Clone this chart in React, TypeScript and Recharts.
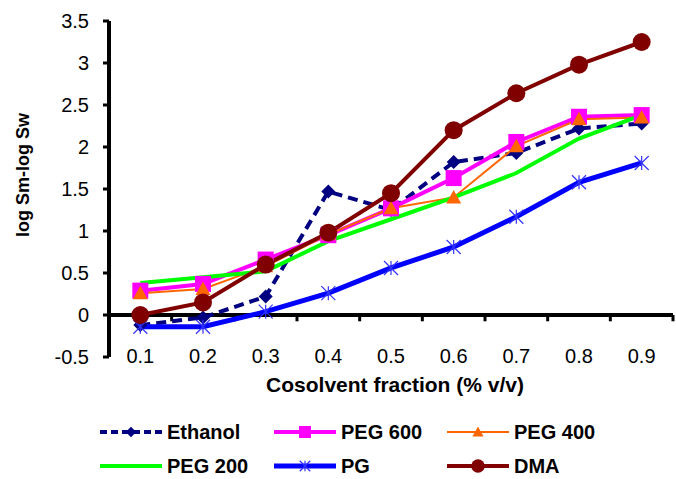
import React from 'react';
import { LineChart, Line, XAxis, YAxis, ReferenceLine, Legend, Label } from 'recharts';

// cosolvent fraction (% v/v) and log Sm - log Sw per cosolvent
const fractions = [0.1, 0.2, 0.3, 0.4, 0.5, 0.6, 0.7, 0.8, 0.9];
const ethanol = [-0.12, -0.03, 0.22, 1.47, 1.25, 1.82, 1.93, 2.22, 2.28];
const peg600 = [0.29, 0.37, 0.66, 0.95, 1.27, 1.63, 2.06, 2.36, 2.38];
const peg400 = [0.26, 0.31, 0.58, 0.96, 1.27, 1.4, 2.01, 2.33, 2.35];
const peg200 = [0.38, 0.45, 0.52, 0.88, 1.14, 1.4, 1.69, 2.1, 2.38];
const pg = [-0.14, -0.14, 0.04, 0.26, 0.56, 0.81, 1.17, 1.58, 1.81];
const dma = [0.0, 0.15, 0.6, 0.98, 1.45, 2.2, 2.64, 2.98, 3.25];

const yTicks = [-0.5, 0, 0.5, 1, 1.5, 2, 2.5, 3, 3.5];
// category boundaries where the axis tick marks sit
const xBounds = [0.05, 0.15, 0.25, 0.35, 0.45, 0.55, 0.65, 0.75, 0.85, 0.95];

const data = fractions.map((f, i) => ({
  x: f,
  ethanol: ethanol[i],
  peg600: peg600[i],
  peg400: peg400[i],
  peg200: peg200[i],
  pg: pg[i],
  dma: dma[i],
}));

const FONT = '"Liberation Sans", Arial, sans-serif';

type Shape = 'diamond' | 'square' | 'triangle' | 'star' | 'circle' | 'none';

const Marker = ({ cx, cy, shape, color, size }: { cx: number; cy: number; shape: Shape; color: string; size: number }) => {
  const s = size / 2;
  if (shape === 'diamond')
    return <path d={`M${cx},${cy - s}L${cx + s},${cy}L${cx},${cy + s}L${cx - s},${cy}Z`} fill={color} />;
  if (shape === 'square') return <rect x={cx - s} y={cy - s} width={size} height={size} fill={color} />;
  if (shape === 'triangle')
    return <path d={`M${cx},${cy - s}L${cx + s},${cy + s * 0.8}L${cx - s},${cy + s * 0.8}Z`} fill={color} />;
  if (shape === 'circle') return <circle cx={cx} cy={cy} r={s} fill={color} />;
  if (shape === 'star')
    return (
      <g stroke={color} strokeWidth={1.2}>
        <line x1={cx - s} y1={cy - s} x2={cx + s} y2={cy + s} />
        <line x1={cx - s} y1={cy + s} x2={cx + s} y2={cy - s} />
        <line x1={cx} y1={cy - s} x2={cx} y2={cy + s} />
      </g>
    );
  return null;
};

const series = [
  { key: 'ethanol', name: 'Ethanol', color: '#000080', width: 4, dash: '10 6', shape: 'diamond' as Shape, size: 14, markerColor: '#000080' },
  { key: 'peg600', name: 'PEG 600', color: '#FF00FF', width: 4, dash: undefined, shape: 'square' as Shape, size: 16, markerColor: '#FF00FF' },
  { key: 'peg400', name: 'PEG 400', color: '#FF6600', width: 2, dash: undefined, shape: 'triangle' as Shape, size: 15, markerColor: '#FF6600' },
  { key: 'peg200', name: 'PEG 200', color: '#00FF00', width: 4, dash: undefined, shape: 'none' as Shape, size: 0, markerColor: '#00FF00' },
  { key: 'pg', name: 'PG', color: '#0000FF', width: 5, dash: undefined, shape: 'star' as Shape, size: 14, markerColor: '#3333FF' },
  { key: 'dma', name: 'DMA', color: '#800000', width: 4, dash: undefined, shape: 'circle' as Shape, size: 18, markerColor: '#800000' },
];

const legendCols = [100, 274, 447];
const legendRows = [27, 61];

const LegendContent = () => (
  <svg width={676} height={80}>
    {series.map((s, i) => {
      const x = legendCols[i % 3];
      const y = legendRows[Math.floor(i / 3)];
      return (
        <g key={s.key}>
          <line x1={x} y1={y} x2={x + 62} y2={y} stroke={s.color} strokeWidth={s.width} strokeDasharray={s.dash ? '7 4' : undefined} />
          <Marker cx={x + 31} cy={y} shape={s.shape} color={s.markerColor} size={s.size * 0.75} />
          <text x={x + 67} y={y + 7} fontFamily={FONT} fontWeight="bold" fontSize={20} fill="#000">
            {s.name}
          </text>
        </g>
      );
    })}
  </svg>
);

export default function App() {
  return (
    <div style={{ position: 'absolute', left: 0, top: 0, background: '#fff' }}>
      <LineChart width={676} height={479} data={data} margin={{ top: 21, right: 3, bottom: 92, left: 49 }}>
        <XAxis
          dataKey="x"
          type="number"
          domain={[0.05, 0.95]}
          ticks={fractions}
          axisLine={false}
          tickLine={false}
          tickSize={0}
          tickMargin={0}
          height={30}
          interval={0}
          tick={{ fontSize: 20, fill: '#000', fontFamily: FONT, dy: -8 }}
        >
          <Label
            content={() => (
              <text x={395} y={392} textAnchor="middle" fontFamily={FONT} fontWeight="bold" fontSize={21} fill="#000">
                Cosolvent fraction (% v/v)
              </text>
            )}
          />
        </XAxis>
        <YAxis
          type="number"
          domain={[-0.5, 3.5]}
          ticks={yTicks}
          width={60}
          axisLine={{ stroke: '#000', strokeWidth: 4 }}
          tickLine={{ stroke: '#000', strokeWidth: 3 }}
          tickSize={6}
          tickMargin={14}
          tick={{ fontSize: 20, fill: '#000', fontFamily: FONT }}
        >
          <Label
            content={() => (
              <text
                x={24}
                y={175}
                transform="rotate(-90 24 175)"
                textAnchor="middle"
                dominantBaseline="middle"
                fontFamily={FONT}
                fontWeight="bold"
                fontSize={18}
                fill="#000"
              >
                log Sm-log Sw
              </text>
            )}
          />
        </YAxis>
        <ReferenceLine y={0} stroke="#000" strokeWidth={4} />
        {xBounds.map((b) => (
          <ReferenceLine
            key={b}
            segment={[{ x: b, y: 0 }, { x: b, y: -0.075 }]}
            stroke="#000"
            strokeWidth={3}
          />
        ))}
        <Legend
          verticalAlign="middle"
          align="center"
          layout="horizontal"
          wrapperStyle={{ left: 0, top: 405, width: 676 }}
          content={LegendContent}
        />
        {series.map((s) => (
          <Line
            key={s.key}
            dataKey={s.key}
            name={s.name}
            stroke={s.color}
            strokeWidth={s.width}
            strokeDasharray={s.dash}
            isAnimationActive={false}
            dot={(p: any) => (
              <Marker key={`${s.key}-${p.index}`} cx={p.cx} cy={p.cy} shape={s.shape} color={s.markerColor} size={s.size} />
            )}
            activeDot={false}
          />
        ))}
      </LineChart>
    </div>
  );
}
